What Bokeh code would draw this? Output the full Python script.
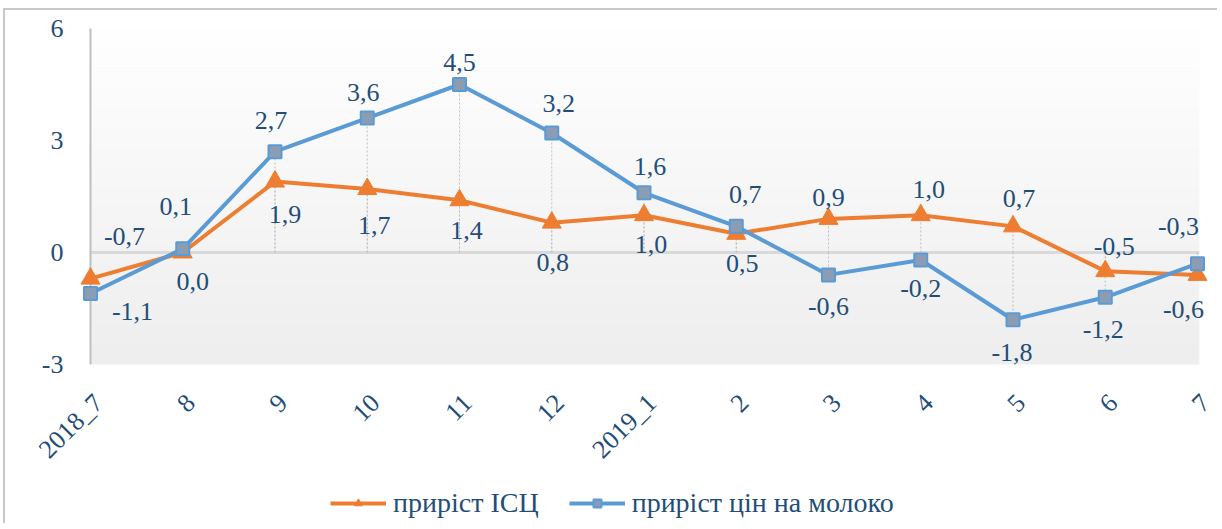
import numpy as np
from bokeh.plotting import figure
from bokeh.models import ColumnDataSource, Range1d, Legend, LegendItem
from bokeh.core.properties import value
from bokeh.embed import file_html
from bokeh.resources import INLINE

# ---- data ----
months = ["2018_7", "8", "9", "10", "11", "12", "2019_1", "2", "3", "4", "5", "6", "7"]
isc = [-0.7, 0.0, 1.9, 1.7, 1.4, 0.8, 1.0, 0.5, 0.9, 1.0, 0.7, -0.5, -0.6]
milk = [-1.1, 0.1, 2.7, 3.6, 4.5, 3.2, 1.6, 0.7, -0.6, -0.2, -1.8, -1.2, -0.3]
y_ticks = [-3, 0, 3, 6]
series_names = ["приріст ІСЦ", "приріст цін на молоко"]

# label placement (pixel offsets, style only)
isc_dx = [34, 10, 10, 7, 7, 1, 7, 6, 0, 8, 6, 9, -14]
isc_dy = [-42, 29, 33, 36, 30, 40, 29, 30, -21, -26, -28, -25, 35]
milk_dx = [42, -7, -4, -4, 0, 7, 6, 9, 0, 0, -1, -2, -19]
milk_dy = [18, -42, -31, -26, -22, -30, -26, -32, 32, 29, 33, 32, -37]

FONT = "Liberation Serif"
FS = "26px"
TXT = "#1F4E79"
ORANGE = "#ED7D31"
BLUE = "#5B9BD5"

x = list(range(len(months)))
fmt = lambda v: f"{v:.1f}".replace(".", ",")

# plot-area value range
y0, y1 = -3, 6
x0, x1 = 0, len(months) - 1 + 0.02

# whole-figure drawing area (frame covers the full figure so outer labels are not clipped)
W, H = 1212, 513
px_x = 92.25      # pixels per category
px_y = 112 / 3    # pixels per value unit
left_pad, top_pad = 85, 18
vx0 = x0 - left_pad / px_x
vx1 = vx0 + W / px_x
vy1 = y1 + top_pad / px_y
vy0 = vy1 - H / px_y

p = figure(frame_width=W, frame_height=H, width=W, height=H,
           x_range=Range1d(vx0, vx1), y_range=Range1d(vy0, vy1),
           output_backend="svg", toolbar_location=None,
           min_border_left=0, min_border_top=0, min_border_right=0, min_border_bottom=0)
p.styles = {"border-left": "2px solid #c8c8c8", "border-top": "2px solid #c8c8c8",
            "margin-top": "8px", "margin-left": "3px"}
p.outline_line_color = None
p.background_fill_color = "white"
p.xgrid.visible = False
p.ygrid.visible = False
p.xaxis.visible = False
p.yaxis.visible = False

# gradient plot-area background
N = 256
t = np.linspace(0, 1, N)  # 0 bottom -> 1 top
top = np.array([255, 255, 255])
bot = np.array([238, 238, 238])
cols = (bot[None, :] * (1 - t[:, None]) + top[None, :] * t[:, None]).astype(np.uint32)
img = (255 << 24) | (cols[:, 2] << 16) | (cols[:, 1] << 8) | cols[:, 0]
img = img.reshape(N, 1).astype(np.uint32)
p.image_rgba(image=[img], x=x0, y=y0, dw=x1 - x0, dh=y1 - y0)

# zero line and value-axis line
p.segment(x0=[x0], y0=[0], x1=[x1], y1=[0], line_color="#d9d9d9", line_width=3)
p.segment(x0=[x0], y0=[y0], x1=[x0], y1=[y1], line_color="#bfbfbf", line_width=2)

# drop lines
for vals in (isc, milk):
    p.segment(x0=x, y0=[0] * len(x), x1=x, y1=vals, line_color="#c0c0c0",
              line_width=1, line_dash="2 2")

src_i = ColumnDataSource(dict(x=x, y=isc, t=[fmt(v) for v in isc], dx=isc_dx, dy=isc_dy))
src_m = ColumnDataSource(dict(x=x, y=milk, t=[fmt(v) for v in milk], dx=milk_dx, dy=milk_dy))

l1 = p.line("x", "y", source=src_i, line_color=ORANGE, line_width=4)
m1 = p.scatter("x", "y", source=src_i, marker="triangle", size=19,
               fill_color=ORANGE, line_color=ORANGE)
l2 = p.line("x", "y", source=src_m, line_color=BLUE, line_width=4)
m2 = p.scatter("x", "y", source=src_m, marker="square", size=13,
               fill_color="#8c9db3", line_color=BLUE, line_width=2)

for src in (src_i, src_m):
    p.text("x", "y", text="t", source=src, x_offset="dx", y_offset="dy",
           text_font=value(FONT), text_font_size=FS, text_color=TXT,
           text_align="center", text_baseline="middle")

# category labels (rotated), under the plot area
src_x = ColumnDataSource(dict(x=x, y=[y0] * len(x), t=months))
p.text("x", "y", text="t", source=src_x, x_offset=8, y_offset=34, angle=np.pi / 4,
       text_font=value(FONT), text_font_size=FS, text_color=TXT,
       text_align="right", text_baseline="middle")

# value-axis tick labels
src_y = ColumnDataSource(dict(x=[x0] * len(y_ticks), y=y_ticks, t=[str(v) for v in y_ticks]))
p.text("x", "y", text="t", source=src_y, x_offset=-27,
       text_font=value(FONT), text_font_size=FS, text_color=TXT,
       text_align="right", text_baseline="middle")

legend = Legend(items=[LegendItem(label=series_names[0], renderers=[l1, m1]),
                       LegendItem(label=series_names[1], renderers=[l2, m2])],
                orientation="horizontal", location=(325, 4),
                label_text_font=FONT, label_text_font_size="28px", label_text_color=TXT,
                glyph_width=56, glyph_height=20, label_standoff=7, spacing=30,
                padding=0, margin=0, border_line_color=None, background_fill_alpha=0)
p.add_layout(legend, "center")

open("out.html", "w").write(file_html(p, INLINE))
